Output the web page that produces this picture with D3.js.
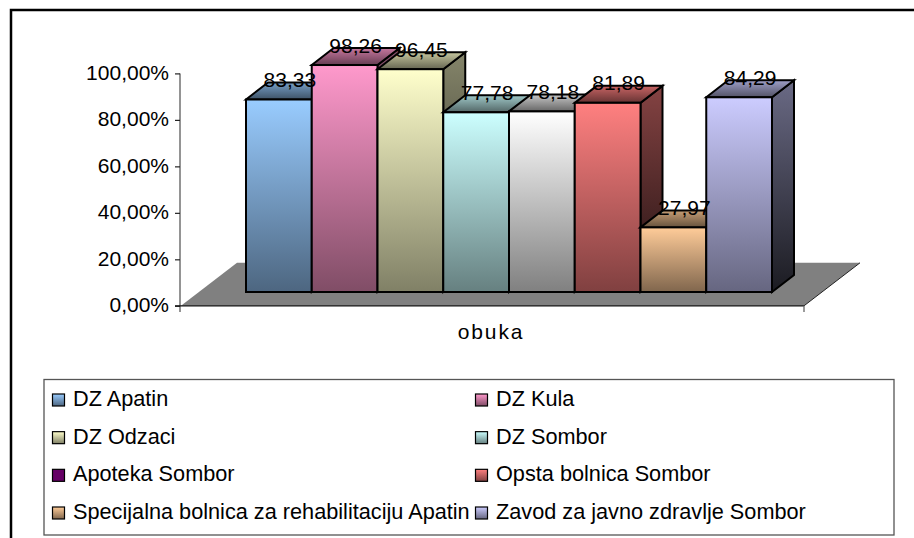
<!DOCTYPE html>
<html><head><meta charset="utf-8">
<script src="https://cdn.jsdelivr.net/npm/d3@7"></script>
<style>html,body{margin:0;padding:0;background:#fff}svg{display:block}text{font-family:"Liberation Sans",Arial,sans-serif;fill:#000}</style>
</head><body><svg id="c" width="914" height="538"></svg>
<script>
const categories = ["DZ Apatin","DZ Kula","DZ Odzaci","DZ Sombor","Apoteka Sombor","Opsta bolnica Sombor","Specijalna bolnica za rehabilitaciju Apatin","Zavod za javno zdravlje Sombor"];
const values = [83.33,98.26,96.45,77.78,78.18,81.89,27.97,84.29];
const barColors = ["#99ccff","#ff99cc","#ffffcc","#ccffff","#ffffff","#ff8080","#ffcc99","#ccccff"];
const legendColors = ["#99ccff","#ff99cc","#ffffcc","#ccffff","#660066","#ff8080","#ffcc99","#ccccff"];
const tickValues = [0,20,40,60,80,100];
const xLabel = "obuka";

const svg = d3.select("#c");
const defs = svg.append("defs");
const shade = (c,k)=>d3.interpolateRgb("#000",c)(k);
const grad = (id,stops)=>{
  const g = defs.append("linearGradient").attr("id",id).attr("x1",0).attr("y1",0).attr("x2",0).attr("y2",1);
  stops.forEach(([o,c])=>g.append("stop").attr("offset",o).attr("stop-color",c));
};
barColors.forEach((c,i)=>{
  grad("f"+i,[[0,c],[1,shade(c,0.5)]]);
  grad("s"+i,[[0,shade(c,0.52)],[1,shade(c,0.13)]]);
  grad("t"+i,[[0,shade(c,0.78)],[1,shade(c,0.4)]]);
  grad("l"+i,i===4?[[0,legendColors[i]],[1,legendColors[i]]]:[[0,legendColors[i]],[1,shade(legendColors[i],0.5)]]);
});

// frame
svg.append("path").attr("d","M11,538V10H914").attr("fill","none").attr("stroke","#000").attr("stroke-width",2.5);

const y = d3.scaleLinear().domain([0,100]).range([305.8,73.4]);
const h = d3.scaleLinear().domain([0,100]).range([0,231]);
const x = d3.scaleBand().domain(categories).range([246,772]).paddingInner(0).paddingOuter(0);
const baseY = 292, dx = 22, dy = -17;

// floor
const fx0=181, fx1=804, fy0=y(0), fdx=56, fdy=-43;
svg.append("polygon").attr("points",[[fx0,fy0],[fx1,fy0],[fx1+fdx,fy0+fdy],[fx0+fdx,fy0+fdy]].join(" ")).attr("fill","#808080");
svg.append("line").attr("x1",fx1).attr("y1",fy0).attr("x2",fx1+fdx).attr("y2",fy0+fdy).attr("stroke","#222").attr("stroke-width",1);

// axes
const ax = svg.append("g").attr("transform","translate(180,0)")
  .call(d3.axisLeft(y).tickValues(tickValues).tickSize(5).tickPadding(6).tickFormat(d=>d3.format(".2f")(d).replace(".",",")+"%"));
ax.select(".domain").attr("d",`M0,${y(100)}V312`).attr("stroke","#707070").attr("stroke-width",1.5);
ax.selectAll(".tick line").attr("stroke","#222").attr("stroke-width",1.2);
ax.selectAll("text").attr("font-size",21).attr("dy","0.28em").attr("font-family",'"Liberation Sans",Arial,sans-serif').attr("fill","#000");
svg.append("line").attr("x1",175).attr("x2",804).attr("y1",fy0).attr("y2",fy0).attr("stroke","#111").attr("stroke-width",1.3);
svg.append("line").attr("x1",804).attr("x2",804).attr("y1",fy0).attr("y2",312).attr("stroke","#666").attr("stroke-width",1.3);

// bars
const bars = svg.selectAll("g.bar").data(categories).join("g").attr("class","bar")
  .attr("stroke","#000").attr("stroke-width",2).attr("stroke-linejoin","miter");
const geo = i=>{const l=x(categories[i]), r=l+x.bandwidth(), t=baseY-h(values[i]); return {l,r,t};};
bars.append("polygon").attr("points",(d,i)=>{const g=geo(i);return [[g.r,g.t],[g.r+dx,g.t+dy],[g.r+dx,baseY+dy],[g.r,baseY]].join(" ");}).attr("fill",(d,i)=>`url(#s${i})`);
bars.append("polygon").attr("points",(d,i)=>{const g=geo(i);return [[g.l,g.t],[g.l+dx,g.t+dy],[g.r+dx,g.t+dy],[g.r,g.t]].join(" ");}).attr("fill",(d,i)=>`url(#t${i})`);
bars.append("rect").attr("x",(d,i)=>geo(i).l).attr("y",(d,i)=>geo(i).t).attr("width",x.bandwidth()).attr("height",(d,i)=>baseY-geo(i).t).attr("fill",(d,i)=>`url(#f${i})`);

// data labels
svg.selectAll("text.v").data(values).join("text").attr("class","v")
  .attr("x",(d,i)=>geo(i).l+x.bandwidth()/2+11).attr("y",(d,i)=>geo(i).t-12.5)
  .attr("text-anchor","middle").attr("font-size",21).text(d=>d3.format(".2f")(d).replace(".",","));

// category label
svg.append("text").attr("x",491).attr("y",339).attr("text-anchor","middle").attr("font-size",21).attr("letter-spacing",1.9).text(xLabel);

// legend
svg.append("rect").attr("x",44).attr("y",379.5).attr("width",850).attr("height",155.5).attr("fill","#fff").attr("stroke","#555").attr("stroke-width",1.3);
const rowY = d3.scalePoint().domain([0,1,2,3]).range([400,513]);
const colX = d3.scaleOrdinal().domain([0,1]).range([52,475]);
const lg = svg.selectAll("g.lg").data(categories).join("g").attr("class","lg")
  .attr("transform",(d,i)=>`translate(${colX(i%2)},${rowY(Math.floor(i/2))})`);
lg.append("rect").attr("x",0.5).attr("y",-6).attr("width",12).attr("height",12).attr("fill",(d,i)=>`url(#l${i})`).attr("stroke","#000").attr("stroke-width",1.2);
lg.append("text").attr("x",21).attr("y",6).attr("font-size",21.7).text(d=>d);
</script></body></html>
